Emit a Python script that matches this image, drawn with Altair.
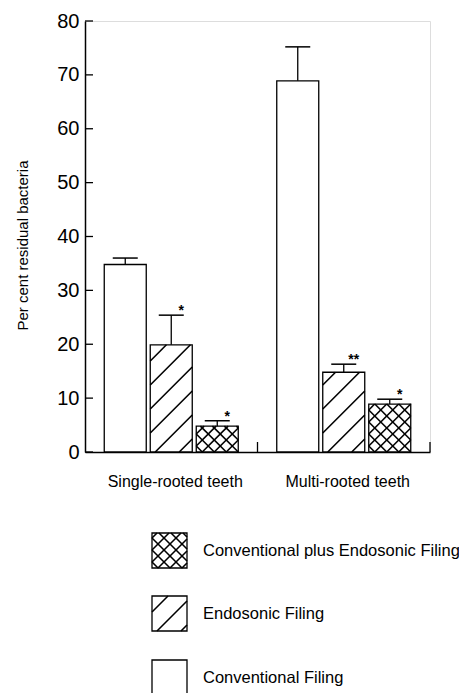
import math
import altair as alt
import pandas as pd

# ---------------- data ----------------
groups = ["Single-rooted teeth", "Multi-rooted teeth"]
series = ["Conventional Filing", "Endosonic Filing", "Conventional plus Endosonic Filing"]
single_means = [34.8, 19.9, 4.8]
multi_means = [68.9, 14.8, 8.9]
single_sem = [1.2, 5.5, 1.0]
multi_sem = [6.3, 1.5, 0.9]
single_stars = ["", "*", "*"]
multi_stars = ["", "**", "*"]
y_ticks = [0, 10, 20, 30, 40, 50, 60, 70, 80]
legend_order = ["Conventional plus Endosonic Filing", "Endosonic Filing", "Conventional Filing"]
pattern = {"Conventional Filing": "none", "Endosonic Filing": "diag",
           "Conventional plus Endosonic Filing": "cross"}

# ---------------- layout ----------------
W, H = 345, 431
X_MAX, Y_MAX = 2.0, 80.0
PX_X = W / X_MAX
PX_Y = H / Y_MAX
SLOT = 46 / PX_X          # distance between bar centres
HALF = 21 / PX_X          # half bar width
CAP = 12.5 / PX_X         # half cap width
STAR_DX = 10 / PX_X
FONT = "Liberation Sans"

means = [single_means, multi_means]
sems = [single_sem, multi_sem]
stars = [single_stars, multi_stars]

bar_rows = []
for g, gname in enumerate(groups):
    for s, sname in enumerate(series):
        c = 0.5 + g + (s - 1) * SLOT
        m = means[g][s]
        e = sems[g][s]
        bar_rows.append(dict(group=gname, series=sname, xc=c, x0=c - HALF, x1=c + HALF,
                             mean=m, top=m + e, cl=c - CAP, cr=c + CAP,
                             xs=c + STAR_DX, star=stars[g][s]))
bars = pd.DataFrame(bar_rows)


def hatch(x0, x1, y0, y1, spacing, phase, kind):
    """segments in pixel space (y up) clipped to rectangle"""
    segs = []
    dirs = [] if kind == "none" else ([1] if kind == "diag" else [1, -1])
    for d in dirs:
        if d == 1:
            cmin, cmax = y0 - x1, y1 - x0
            base = y0 - x0 - phase
            k = math.floor((cmin - base) / spacing)
            c = base + k * spacing
            while c <= cmax:
                xa, xb = max(x0, y0 - c), min(x1, y1 - c)
                if xb - xa > 0.8:
                    segs.append((xa, xa + c, xb, xb + c))
                c += spacing
        else:
            cmin, cmax = x0 + y0, x1 + y1
            base = x0 + y0 + phase
            k = math.floor((cmin - base) / spacing)
            c = base + k * spacing
            while c <= cmax:
                xa, xb = max(x0, c - y1), min(x1, c - y0)
                if xb - xa > 0.8:
                    segs.append((xa, c - xa, xb, c - xb))
                c += spacing
    return segs


def hatch_rows(x0, x1, y0, y1, kind):
    spacing = 24 if kind == "diag" else 12
    phase = 5 if kind == "diag" else 6
    out = []
    for (a, b, c, d) in hatch(x0 * PX_X, x1 * PX_X, y0 * PX_Y, y1 * PX_Y, spacing, phase, kind):
        out.append(dict(hx=a / PX_X, hy=b / PX_Y, hx2=c / PX_X, hy2=d / PX_Y))
    return out


h_rows = []
for r in bar_rows:
    h_rows += hatch_rows(r["x0"], r["x1"], 0, r["mean"], pattern[r["series"]])
hatch_df = pd.DataFrame(h_rows)

# legend (pixel layout below the axis, y measured upwards from baseline)
LEG_X0, LEG_X1 = 67, 102
LEG_TEXT_X = 118
LEG_TOPS = [-81, -144, -208]
LEG_SIZE = 35
leg_rows, leg_hatch = [], []
for name, top in zip(legend_order, LEG_TOPS):
    x0, x1 = LEG_X0 / PX_X, LEG_X1 / PX_X
    y1, y0 = top / PX_Y, (top - LEG_SIZE) / PX_Y
    leg_rows.append(dict(series=name, x0=x0, x1=x1, y0=y0, y1=y1,
                         tx=LEG_TEXT_X / PX_X, ty=(top - LEG_SIZE / 2) / PX_Y))
    leg_hatch += hatch_rows(x0, x1, y0, y1, pattern[name])
legend = pd.DataFrame(leg_rows)
leg_hatch_df = pd.DataFrame(leg_hatch)

ticks_df = pd.DataFrame(dict(v=y_ticks, x0=[0] * len(y_ticks), x1=[8 / PX_X] * len(y_ticks)))
xticks_df = pd.DataFrame(dict(x=[1.0, 2.0], y0=[0, 0], y1=[10 / PX_Y, 10 / PX_Y]))
glab_df = pd.DataFrame(dict(label=groups, x=[0.5 + 4 / PX_X, 1.5 + 4 / PX_X], y=[0, 0]))

xs = alt.Scale(domain=[0, X_MAX], nice=False, zero=False)
ys = alt.Scale(domain=[0, Y_MAX], nice=False, zero=False)

x_axis = alt.Axis(labels=False, ticks=False, title=None, grid=False, values=[],
                  domainColor="black", domainWidth=1.5)
y_axis = alt.Axis(values=y_ticks, ticks=False, tickSize=0, labelPadding=6, labelFontSize=20,
                  labelColor="black", labelFont=FONT, grid=False, domainColor="black",
                  domainWidth=1.5, title="Per cent residual bacteria", titleFont=FONT,
                  titleFontSize=15, titleFontWeight="normal", titleColor="black",
                  titleAngle=270, titleX=-63, titleY=224, titleAlign="center",
                  titleBaseline="middle")

base_bars = alt.Chart(bars)
rects = base_bars.mark_rect(fill="white", stroke="black", strokeWidth=1.3).encode(
    x=alt.X("x0:Q", scale=xs, axis=x_axis), x2="x1:Q",
    y=alt.Y("mean:Q", scale=ys, axis=y_axis), y2=alt.datum(0))
hatch_layer = alt.Chart(hatch_df).mark_rule(color="black", strokeWidth=1.6).encode(
    x="hx:Q", y="hy:Q", x2="hx2:Q", y2="hy2:Q")
err_v = base_bars.mark_rule(color="black", strokeWidth=1.3).encode(
    x="xc:Q", y="mean:Q", y2="top:Q")
err_c = base_bars.mark_rule(color="black", strokeWidth=1.5).encode(
    x="cl:Q", x2="cr:Q", y="top:Q")
star_layer = base_bars.mark_text(font=FONT, fontSize=14, fontWeight="bold", baseline="middle",
                                 dy=-4, color="black").encode(
    x="xs:Q", y="top:Q", text="star:N")
yticks = alt.Chart(ticks_df).mark_rule(color="black", strokeWidth=1.3).encode(
    x="x0:Q", x2="x1:Q", y="v:Q")
xticks = alt.Chart(xticks_df).mark_rule(color="black", strokeWidth=1.3).encode(
    x="x:Q", y="y0:Q", y2="y1:Q")
glabels = alt.Chart(glab_df).mark_text(font=FONT, fontSize=16, baseline="middle", dy=30,
                                       color="black").encode(
    x="x:Q", y="y:Q", text="label:N")

leg_rect = alt.Chart(legend).mark_rect(fill="white", stroke="black", strokeWidth=1.3).encode(
    x="x0:Q", x2="x1:Q", y="y0:Q", y2="y1:Q")
leg_h = alt.Chart(leg_hatch_df).mark_rule(color="black", strokeWidth=1.6).encode(
    x="hx:Q", y="hy:Q", x2="hx2:Q", y2="hy2:Q")
leg_text = alt.Chart(legend).mark_text(font=FONT, fontSize=16.5, align="left", baseline="middle",
                                       color="black").encode(
    x="tx:Q", y="ty:Q", text="series:N")

chart = alt.layer(rects, hatch_layer, err_v, err_c, star_layer, yticks, xticks, glabels,
                  leg_rect, leg_h, leg_text).properties(
    width=W, height=H,
    autosize=alt.AutoSizeParams(type="none"),
    padding={"left": 77, "top": 13, "right": 29, "bottom": 241},
).configure_view(stroke=None).configure(background="white")

chart.save("out.html", embed_options={"renderer": "svg", "actions": False})
